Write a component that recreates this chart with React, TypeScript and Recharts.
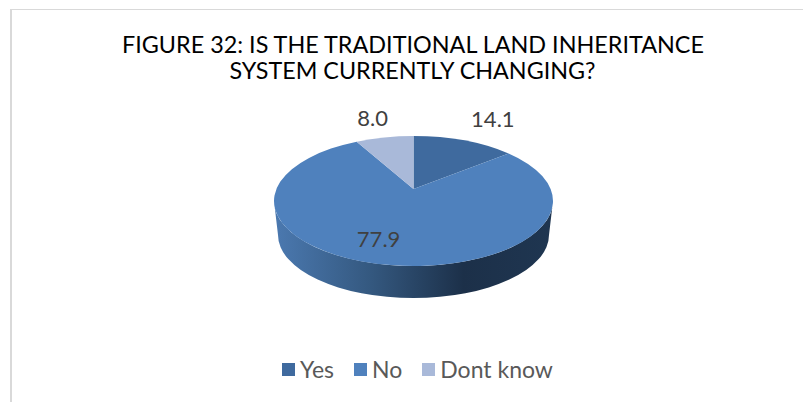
import { PieChart, Pie, Cell, Legend } from 'recharts';

const categories = ['Yes', 'No', 'Dont know'];
const shares = [14.1, 77.9, 8.0];
const colors = ['#3f6a9e', '#4f81bd', '#a9b9d9'];
const titleLines = ['FIGURE 32: IS THE TRADITIONAL LAND INHERITANCE', 'SYSTEM CURRENTLY CHANGING?'];

const chartData = categories.map((name, i) => ({ name, value: shares[i] }));

// tilt of the fake 3D disc
const SQUASH = 65 / 139.5;
const PERSPECTIVE = 0.1846;
const APEX_SHIFT = 12 / 65;
const WALL_DROP = 34;
const WALL_SHRINK = 4;

// small nudges from the rim point of each slice to where its label sits
const labelNudges = [
  { dx: 29, dy: -22 },
  { dx: -3, dy: -26 },
  { dx: -12, dy: -20 },
];

// polar angle (recharts degrees) -> point on the tilted disc, perspective included
const project = (cx: number, cy: number, r: number, angle: number) => {
  const rad = (angle * Math.PI) / 180;
  const u = Math.cos(rad);
  const v = -Math.sin(rad);
  const w = 1 - PERSPECTIVE * v;
  const ry = r * SQUASH;
  return {
    x: cx + (r * Math.sqrt(1 - PERSPECTIVE * PERSPECTIVE) * u) / w,
    y: cy + (ry * v - ry * APEX_SHIFT) / w,
  };
};

const DiscSlice = (props: any) => {
  const { cx, cy, outerRadius: r, startAngle, endAngle, fill } = props;
  const ry = r * SQUASH;
  const apexY = cy - ry * APEX_SHIFT;
  const from = project(cx, cy, r, startAngle);
  const to = project(cx, cy, r, endAngle);
  const large = Math.abs(startAngle - endAngle) > 180 ? 1 : 0;
  const hasFront = startAngle >= 0 && endAngle <= -180;
  return (
    <g>
      {hasFront && (
        <path
          d={`M${cx - r},${cy} A${r},${ry} 0 0 0 ${cx + r},${cy} L${cx + r - WALL_SHRINK},${cy + WALL_DROP} A${r - WALL_SHRINK},${ry - 2} 0 0 1 ${cx - r + WALL_SHRINK},${cy + WALL_DROP} Z`}
          fill="url(#wallShade)"
        />
      )}
      <path
        d={`M${cx},${apexY} L${from.x},${from.y} A${r},${ry} 0 ${large} 1 ${to.x},${to.y} Z`}
        fill={fill}
      />
    </g>
  );
};

const SliceLabel = (props: any) => {
  const { cx, cy, outerRadius, midAngle, index, value } = props;
  const rim = project(cx, cy, outerRadius, midAngle);
  const nudge = labelNudges[index];
  return (
    <text
      x={rim.x + nudge.dx}
      y={rim.y + nudge.dy}
      textAnchor="middle"
      dominantBaseline="central"
      fontFamily="Lato"
      fontSize={22}
      fill="#404040"
    >
      {value.toFixed(1)}
    </text>
  );
};

const LegendRow = () => (
  <div style={{ display: 'flex', justifyContent: 'center', gap: 20, marginLeft: 32, fontFamily: 'Lato', fontSize: 23, color: '#595959', lineHeight: '26px' }}>
    {categories.map((name, i) => (
      <div key={name} style={{ display: 'flex', alignItems: 'center', gap: 5 }}>
        <span style={{ width: 13, height: 13, background: colors[i], display: 'block' }} />
        <span>{name}</span>
      </div>
    ))}
  </div>
);

export default function App() {
  return (
    <div style={{ position: 'fixed', left: 0, top: 0, width: 803, height: 402, overflow: 'hidden', background: '#fff' }}>
      <div style={{ position: 'absolute', left: 10, top: 9, width: 900, height: 500, borderLeft: '2px solid #d9d9d9', borderTop: '1px solid #d9d9d9' }} />
      <div style={{ position: 'absolute', left: 0, top: 0 }}>
        <PieChart width={803} height={402} margin={{ top: 0, right: 0, bottom: 0, left: 0 }}>
          <defs>
            <linearGradient id="wallShade" x1="0" y1="0" x2="1" y2="0">
              <stop offset="0" stopColor="#4b79b0" />
              <stop offset="0.35" stopColor="#34587f" />
              <stop offset="0.68" stopColor="#1c3049" />
              <stop offset="1" stopColor="#1f3651" />
            </linearGradient>
          </defs>
          <text x={413} y={44} textAnchor="middle" dominantBaseline="central" fontFamily="Lato" fontSize={23} fill="#000" textLength={582} lengthAdjust="spacingAndGlyphs">
            {titleLines[0]}
          </text>
          <text x={412.5} y={70} textAnchor="middle" dominantBaseline="central" fontFamily="Lato" fontSize={23} fill="#000" textLength={366} lengthAdjust="spacingAndGlyphs">
            {titleLines[1]}
          </text>
          <Pie
            data={chartData}
            dataKey="value"
            nameKey="name"
            cx={413.5}
            cy={201}
            outerRadius={139.5}
            startAngle={90}
            endAngle={-270}
            stroke="none"
            shape={DiscSlice}
            label={SliceLabel}
            labelLine={false}
            isAnimationActive={false}
          >
            {categories.map((name, i) => (
              <Cell key={name} fill={colors[i]} />
            ))}
          </Pie>
          <Legend verticalAlign="bottom" align="center" content={LegendRow} wrapperStyle={{ bottom: 20 }} />
        </PieChart>
      </div>
    </div>
  );
}
